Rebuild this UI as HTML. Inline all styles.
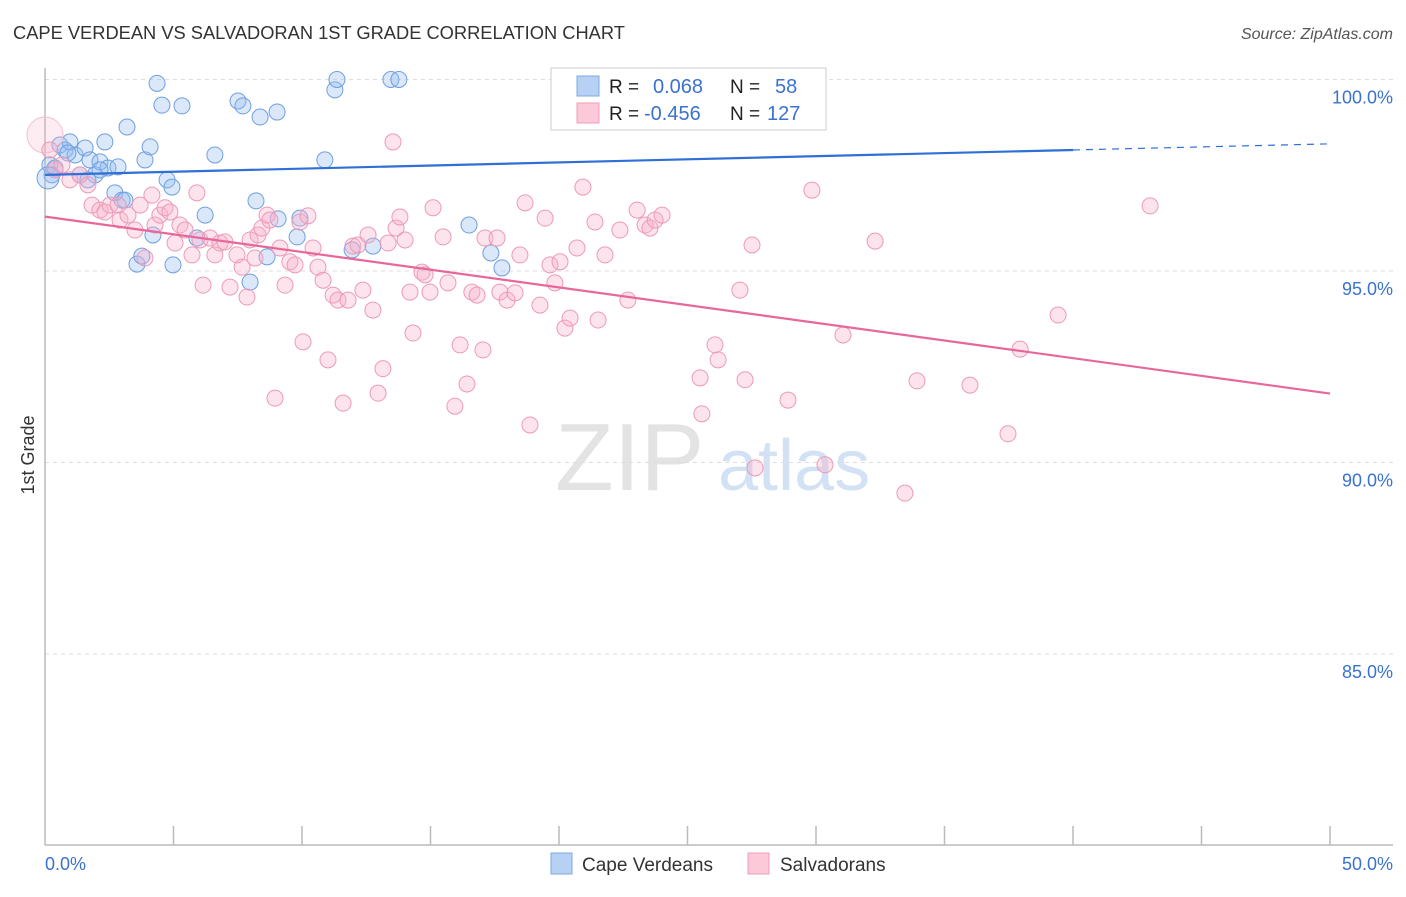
<!DOCTYPE html>
<html><head><meta charset="utf-8"><style>
body{margin:0;background:#fff;font-family:"Liberation Sans",sans-serif;}
svg text{font-family:"Liberation Sans",sans-serif;}
</style></head><body>
<svg id="chart" width="1406" height="892" viewBox="0 0 1406 892" xmlns="http://www.w3.org/2000/svg">
<text x="13" y="39" font-size="18.3" fill="#333">CAPE VERDEAN VS SALVADORAN 1ST GRADE CORRELATION CHART</text>
<text x="1393" y="39" font-size="16" fill="#555" text-anchor="end" font-style="italic">Source: ZipAtlas.com</text>
<g><text x="555" y="490" font-size="96" fill="#ddd" font-family="Liberation Serif" opacity="0.8">ZIP</text><text x="718" y="490" font-size="72" fill="#c8dbf2" opacity="0.8">atlas</text></g>
<g id="grid"></g>
<g id="axes"></g>
<g id="blue"></g>
<g id="pink"></g>
<g id="lines"></g>
<text transform="translate(34,455) rotate(-90)" font-size="18" fill="#333" text-anchor="middle">1st Grade</text>
<g>
<rect x="551" y="68" width="275" height="62" fill="#fff" stroke="#ccc"/>
<rect x="577" y="76" width="22" height="20" fill="#b7d1f4" stroke="#7fa9e3"/>
<rect x="577" y="103" width="22" height="20" fill="#fcc9d8" stroke="#ee9fba"/>
<text x="609" y="93" font-size="19" fill="#222">R =</text><text x="653" y="93" font-size="20" fill="#3a72d0">0.068</text>
<text x="730" y="93" font-size="19" fill="#222">N =</text><text x="775" y="93" font-size="20" fill="#3a72d0">58</text>
<text x="609" y="120" font-size="19" fill="#222">R =</text><text x="644" y="120" font-size="20" fill="#3a72d0">-0.456</text>
<text x="730" y="120" font-size="19" fill="#222">N =</text><text x="767" y="120" font-size="20" fill="#3a72d0">127</text>
</g>
<g>
<rect x="551" y="853" width="21" height="21" fill="#b7d1f4" stroke="#7fa9e3"/>
<text x="582" y="871" font-size="19" fill="#333">Cape Verdeans</text>
<rect x="748" y="853" width="21" height="21" fill="#fcc9d8" stroke="#ee9fba"/>
<text x="780" y="871" font-size="19" fill="#333">Salvadorans</text>
</g>
</svg>
<script>
const yTicks=[100,95,90,85];
const yTickLabels=["100.0%","95.0%","90.0%","85.0%"];
const xTickLabels=["0.0%","50.0%"];
const blueX=[0.19,0.27,0.58,0.78,0.97,1.17,1.56,1.75,1.95,2.14,2.33,2.45,2.72,2.84,3.0,3.19,3.58,3.77,3.89,4.09,4.2,4.36,4.55,4.75,4.94,4.98,5.33,5.91,6.23,6.61,7.51,7.7,7.98,8.21,8.37,8.64,9.03,9.07,9.81,9.92,10.89,11.28,11.36,11.95,12.76,13.46,13.77,16.5,17.35,17.78,30.0,0.12,0.39,1.36,1.67,3.11,0.89,2.14];
const blueY=[97.77,97.51,98.29,98.16,98.37,98.03,98.21,97.9,97.51,97.85,98.37,97.69,97.04,97.72,96.85,98.76,95.18,95.39,97.9,98.24,95.94,99.9,99.33,97.38,97.19,95.16,99.31,95.86,96.46,98.03,99.44,99.31,94.71,96.83,99.02,95.37,99.15,96.36,95.89,96.38,97.9,99.73,100,95.55,95.65,100,100,96.2,95.47,95.08,100,97.43,97.69,97.51,97.38,96.85,98.08,97.64];
const pinkX=[0,0.19,0.39,0.66,0.97,1.36,1.67,1.83,2.14,2.33,2.53,2.84,2.92,3.23,3.5,3.7,3.89,4.16,4.28,4.47,4.67,4.86,5.06,5.25,5.45,5.72,5.91,6.03,6.15,6.42,6.61,6.81,7.0,7.2,7.47,7.67,7.86,7.98,8.17,8.29,8.44,8.64,8.75,8.95,9.14,9.34,9.53,9.73,9.92,10.04,10.23,10.43,10.62,10.82,11.01,11.21,11.4,11.6,11.79,11.98,12.18,12.37,12.57,12.76,12.96,13.15,13.35,13.54,13.66,13.81,14.01,14.2,14.32,14.67,14.79,14.98,15.1,15.49,15.68,15.95,16.15,16.42,16.61,16.81,17.04,17.12,17.59,17.7,17.98,18.29,18.48,18.68,18.87,19.26,19.46,19.65,19.84,20.04,20.23,20.43,20.7,20.93,21.4,21.52,21.79,22.37,22.68,23.04,23.35,23.54,23.74,24.01,24.9,25.49,25.56,26.07,26.19,27.24,27.04,27.51,27.63,28.91,29.84,30.35,31.05,32.3,33.46,33.93,35.99,37.47,37.94,39.42,43.0];
const pinkY=[98.55,98.16,97.64,97.77,97.38,97.51,97.25,96.72,96.59,96.54,96.72,96.72,96.33,96.46,96.07,96.72,95.34,96.98,96.2,96.46,96.65,96.54,95.73,96.2,96.07,95.42,97.04,95.81,94.63,95.86,95.42,95.73,95.76,94.58,95.42,95.1,94.32,95.81,95.34,95.94,96.12,96.46,96.33,91.68,95.6,94.63,95.24,95.16,96.28,93.15,96.44,95.6,95.1,94.76,92.68,94.37,94.24,91.55,94.24,95.65,95.68,94.5,95.94,93.98,91.81,92.45,95.73,98.37,96.12,96.41,95.81,94.45,93.38,94.97,94.9,94.45,96.65,95.89,94.69,91.47,93.07,92.05,94.45,94.37,92.94,95.86,95.86,94.45,94.24,94.43,95.42,96.78,90.98,94.11,96.38,95.16,94.69,95.24,93.51,93.77,95.6,97.19,96.28,93.72,95.42,96.07,94.24,96.59,96.2,96.12,96.33,96.46,100.0,92.21,91.27,93.07,92.68,92.16,94.5,95.68,89.86,91.63,97.11,89.94,93.33,95.78,89.2,92.13,92.02,90.75,92.96,93.85,96.7];
const blueTrend=[97.51,98.16,98.32]; // at x=0,40,50
const pinkTrend=[96.42,91.80]; // at x=0,50

const NS="http://www.w3.org/2000/svg";
const X=v=>45+v*25.7;
const Y=v=>79.5+(100-v)*38.3;
function mk(tag,attrs,parent){const e=document.createElementNS(NS,tag);for(const k in attrs)e.setAttribute(k,attrs[k]);parent.appendChild(e);return e;}
const grid=document.getElementById('grid'),axes=document.getElementById('axes');
yTicks.forEach((t,i)=>{
  const l=mk('line',{x1:45,x2:1393,y1:Y(t),y2:Y(t),stroke:'#ddd','stroke-dasharray':'4,4'},grid);
  
  
  const tx=mk('text',{x:1393,y:Y(t)+24,'font-size':18,fill:'#3a72d0','text-anchor':'end'},axes);
  tx.textContent=yTickLabels[i];
  
  
});
mk('line',{x1:45,x2:45,y1:68,y2:845,stroke:'#bbb','stroke-width':1.5},axes);
mk('line',{x1:45,x2:1393,y1:845,y2:845,stroke:'#bbb','stroke-width':1.5},axes);
for(let i=1;i<=10;i++){const xv=i*5;mk('line',{x1:X(xv),x2:X(xv),y1:826,y2:845,stroke:'#bbb','stroke-width':1.5},axes);}
const xl0=mk('text',{x:45,y:870,'font-size':18,fill:'#3a72d0'},axes);xl0.textContent=xTickLabels[0];


const xl1=mk('text',{x:1393,y:870,'font-size':18,fill:'#3a72d0','text-anchor':'end'},axes);xl1.textContent=xTickLabels[1];


const bg=document.getElementById('blue'),pg=document.getElementById('pink');
pinkX.forEach((x,i)=>{
  const c=mk('circle',{cx:X(x),cy:Y(pinkY[i]),r:i===0?18:8,fill:i===0?'rgba(248,175,200,0.22)':'rgba(248,175,200,0.35)',stroke:i===0?'#f2c0d2':'#ec9ab7','stroke-width':1},pg);
  
  
});
blueX.forEach((x,i)=>{
  const c=mk('circle',{cx:X(x),cy:Y(blueY[i]),r:i===51?11:8,fill:'rgba(150,190,240,0.35)',stroke:'#6f9fe0','stroke-width':1},bg);
  
  
});
const lg=document.getElementById('lines');
const b1=mk('line',{x1:X(0),y1:Y(blueTrend[0]),x2:X(40),y2:Y(blueTrend[1]),stroke:'#2f6fd6','stroke-width':2.2},lg);


const b2=mk('line',{x1:X(40),y1:Y(blueTrend[1]),x2:X(50),y2:Y(blueTrend[2]),stroke:'#2f6fd6','stroke-width':1.2,'stroke-dasharray':'7,6'},lg);


const p1=mk('line',{x1:X(0),y1:Y(pinkTrend[0]),x2:X(50),y2:Y(pinkTrend[1]),stroke:'#e8679a','stroke-width':2.2},lg);


</script>
</body></html>
